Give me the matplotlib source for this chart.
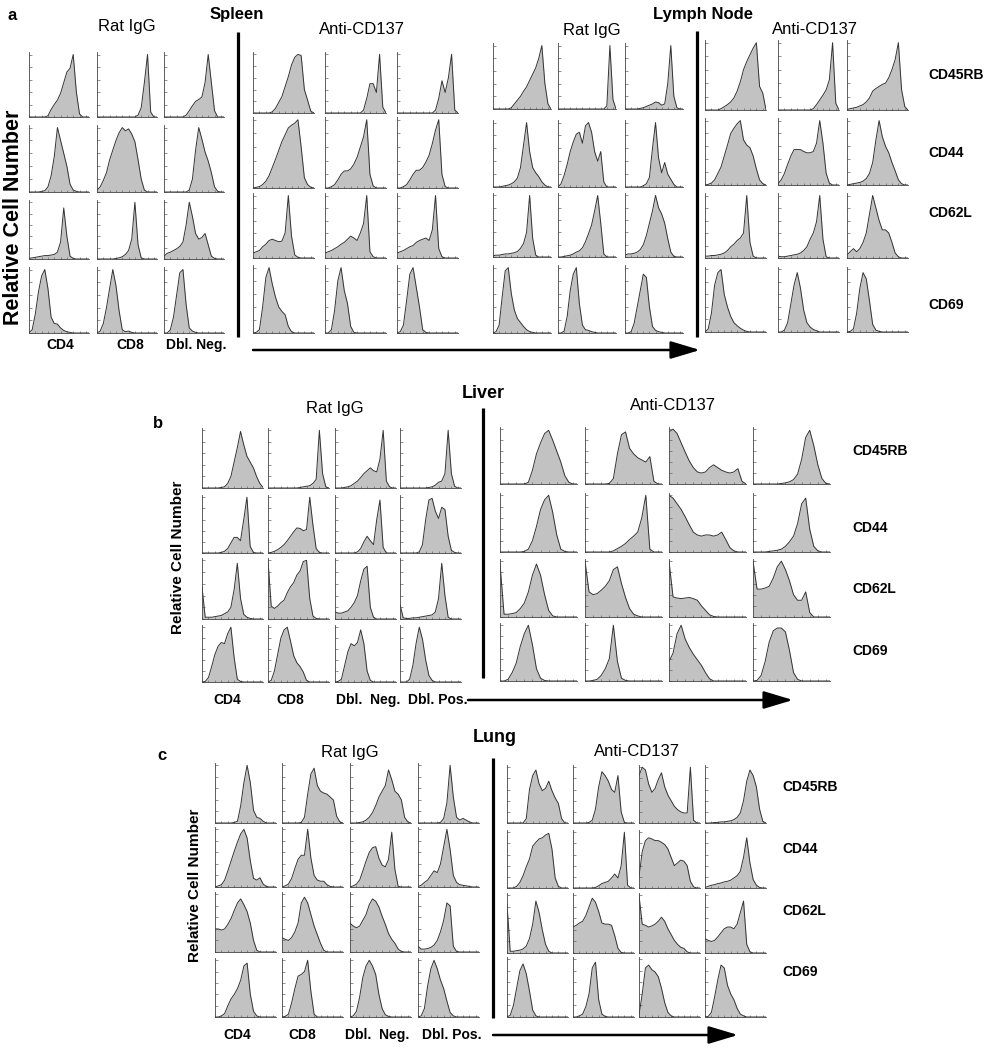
import matplotlib
matplotlib.use("Agg")
import matplotlib.pyplot as plt
import numpy as np
from matplotlib.ticker import MultipleLocator

plt.rcParams['font.family'] = ['Liberation Sans', 'DejaVu Sans']

W, H = 991, 1050

markers = ["CD45RB", "CD44", "CD62L", "CD69"]
subsets_a = ["CD4", "CD8", "Dbl. Neg."]
subsets_bc = ["CD4", "CD8", "Dbl.  Neg.", "Dbl. Pos."]

# relative cell counts in 20 fluorescence channels
# rows = markers, columns = subsets
spleen_rat = [
    [[0, 0, 0, 0, 0, 0, 2, 12, 20, 27, 38, 55, 72, 78, 100, 40, 5, 0, 0, 0],
     [0, 0, 0, 0, 0, 0, 0, 0, 0, 0, 0, 0, 0, 3, 15, 55, 100, 8, 0, 0],
     [0, 0, 0, 0, 0, 0, 0, 3, 10, 18, 25, 28, 32, 55, 100, 55, 10, 0, 0, 0]],
    [[0, 0, 0, 0, 1, 2, 8, 25, 55, 100, 80, 60, 40, 12, 3, 1, 0, 0, 0, 0],
     [3, 8, 18, 30, 50, 65, 80, 92, 100, 95, 98, 90, 78, 50, 20, 3, 0, 0, 0, 0],
     [0, 0, 0, 0, 0, 0, 0, 0, 3, 20, 65, 100, 82, 62, 48, 30, 8, 1, 0, 0]],
    [[1, 2, 3, 4, 5, 6, 6, 7, 8, 12, 30, 90, 40, 5, 1, 0, 0, 0, 0, 0],
     [0, 0, 0, 0, 0, 0, 1, 2, 4, 8, 15, 35, 100, 25, 2, 0, 0, 0, 0, 0],
     [5, 10, 12, 15, 18, 22, 30, 60, 100, 75, 45, 35, 38, 45, 25, 5, 1, 0, 0, 0]],
    [[1, 5, 30, 65, 90, 100, 70, 25, 15, 14, 8, 4, 2, 1, 0, 0, 0, 0, 0, 0],
     [0, 3, 15, 40, 70, 100, 75, 35, 5, 2, 3, 1, 0, 0, 0, 0, 0, 0, 0, 0],
     [0, 0, 5, 25, 60, 95, 100, 45, 8, 3, 1, 0, 0, 0, 0, 0, 0, 0, 0, 0]],
]

spleen_anti = [
    [[0, 0, 0, 0, 0, 0, 2, 8, 18, 28, 45, 62, 82, 95, 100, 98, 40, 22, 3, 0],
     [0, 0, 0, 0, 0, 0, 0, 0, 0, 0, 0, 0, 5, 25, 50, 50, 35, 100, 10, 0],
     [0, 0, 0, 0, 0, 0, 0, 0, 0, 0, 0, 0, 5, 25, 55, 35, 60, 100, 5, 0]],
    [[0, 1, 2, 5, 10, 18, 30, 42, 55, 68, 78, 88, 92, 95, 100, 60, 15, 5, 1, 0],
     [0, 0, 2, 5, 12, 20, 25, 25, 28, 35, 45, 60, 75, 100, 20, 3, 0, 0, 0, 0],
     [0, 0, 2, 5, 12, 20, 26, 26, 30, 38, 48, 65, 85, 100, 20, 2, 0, 0, 0, 0]],
    [[8, 10, 12, 18, 22, 28, 30, 28, 26, 27, 40, 100, 35, 5, 1, 0, 0, 0, 0, 0],
     [8, 10, 12, 15, 18, 22, 25, 30, 35, 32, 28, 40, 55, 100, 10, 2, 0, 0, 0, 0],
     [8, 10, 12, 15, 18, 20, 25, 28, 30, 32, 28, 45, 100, 15, 2, 0, 0, 0, 0, 0]],
    [[0, 1, 5, 40, 85, 100, 75, 55, 40, 33, 28, 10, 2, 0, 0, 0, 0, 0, 0, 0],
     [0, 0, 5, 35, 80, 100, 65, 45, 10, 1, 0, 0, 0, 0, 0, 0, 0, 0, 0, 0],
     [0, 2, 12, 50, 90, 100, 70, 40, 5, 1, 0, 0, 0, 0, 0, 0, 0, 0, 0, 0]],
]

ln_rat = [
    [[0, 0, 0, 0, 0, 0, 2, 8, 14, 20, 28, 35, 45, 55, 65, 80, 100, 40, 8, 0],
     [0, 0, 0, 0, 0, 0, 0, 0, 0, 0, 0, 0, 0, 0, 0, 0, 5, 100, 15, 0],
     [0, 0, 0, 0, 0, 1, 2, 4, 6, 8, 11, 10, 6, 8, 40, 100, 20, 2, 0, 0]],
    [[0, 0, 0, 1, 2, 3, 5, 8, 14, 30, 65, 100, 55, 30, 22, 16, 8, 3, 0, 0],
     [0, 5, 18, 35, 55, 70, 82, 85, 68, 95, 100, 85, 55, 40, 55, 8, 0, 0, 0, 0],
     [0, 0, 0, 0, 0, 0, 2, 5, 15, 60, 100, 45, 22, 38, 20, 12, 4, 0, 0, 0]],
    [[2, 3, 3, 4, 5, 5, 6, 7, 9, 14, 22, 40, 100, 30, 3, 0, 0, 0, 0, 0],
     [0, 0, 1, 2, 3, 5, 8, 10, 15, 25, 38, 52, 75, 100, 55, 5, 0, 0, 0, 0],
     [3, 5, 5, 6, 8, 12, 20, 35, 55, 75, 100, 80, 70, 55, 30, 8, 1, 0, 0, 0]],
    [[0, 2, 12, 55, 95, 100, 60, 35, 22, 16, 10, 5, 2, 1, 0, 0, 0, 0, 0, 0],
     [0, 0, 3, 25, 65, 90, 100, 45, 12, 5, 4, 2, 1, 0, 0, 0, 0, 0, 0, 0],
     [0, 0, 2, 15, 40, 65, 90, 85, 40, 10, 4, 2, 1, 0, 0, 0, 0, 0, 0, 0]],
]

ln_anti = [
    [[0, 0, 0, 0, 0, 2, 5, 8, 12, 18, 28, 42, 60, 72, 82, 92, 100, 35, 25, 0],
     [0, 0, 0, 0, 0, 0, 0, 0, 0, 0, 0, 2, 8, 15, 22, 30, 45, 100, 10, 0],
     [1, 2, 3, 4, 6, 8, 12, 18, 28, 32, 35, 38, 40, 48, 60, 75, 100, 30, 5, 0]],
    [[0, 1, 3, 8, 18, 28, 45, 62, 80, 88, 95, 100, 70, 62, 58, 45, 25, 8, 2, 0],
     [2, 8, 18, 32, 45, 55, 55, 55, 52, 50, 50, 52, 65, 100, 65, 18, 3, 0, 0, 0],
     [0, 1, 2, 3, 4, 6, 10, 18, 35, 70, 100, 75, 60, 50, 35, 22, 8, 2, 0, 0]],
    [[3, 3, 4, 4, 5, 6, 8, 12, 18, 22, 28, 32, 40, 100, 25, 3, 0, 0, 0, 0],
     [3, 2, 2, 3, 4, 5, 6, 8, 12, 18, 30, 40, 58, 100, 30, 2, 0, 0, 0, 0],
     [5, 10, 15, 10, 15, 25, 40, 70, 100, 80, 60, 45, 45, 40, 25, 8, 2, 0, 0, 0]],
    [[0, 5, 30, 75, 95, 100, 60, 40, 25, 15, 10, 6, 3, 1, 0, 0, 0, 0, 0, 0],
     [0, 0, 3, 15, 45, 75, 95, 70, 35, 15, 8, 4, 2, 0, 0, 0, 0, 0, 0, 0],
     [0, 1, 5, 30, 70, 95, 85, 50, 12, 3, 1, 0, 0, 0, 0, 0, 0, 0, 0, 0]],
]

liver_rat = [
    [[0, 0, 0, 0, 0, 0, 1, 2, 8, 20, 45, 70, 98, 75, 55, 45, 35, 20, 8, 1],
     [0, 0, 0, 0, 0, 0, 0, 0, 0, 0, 1, 2, 3, 4, 8, 15, 100, 25, 2, 0],
     [0, 0, 0, 1, 2, 4, 8, 12, 18, 25, 30, 35, 30, 28, 50, 100, 12, 2, 0, 0],
     [0, 0, 0, 0, 0, 0, 0, 0, 0, 1, 2, 5, 10, 12, 25, 100, 25, 3, 0, 0]],
    [[0, 0, 0, 0, 0, 0, 1, 3, 8, 18, 28, 28, 22, 60, 100, 12, 1, 0, 0, 0],
     [0, 1, 3, 6, 10, 15, 22, 30, 38, 45, 44, 40, 42, 100, 50, 8, 1, 0, 0, 0],
     [0, 0, 0, 0, 0, 0, 0, 2, 8, 20, 30, 22, 15, 60, 95, 10, 0, 0, 0, 0],
     [0, 0, 0, 0, 0, 0, 2, 15, 60, 95, 98, 75, 62, 82, 78, 30, 5, 1, 0, 0]],
    [[55, 3, 3, 3, 4, 5, 6, 9, 12, 20, 50, 95, 35, 8, 3, 1, 0, 0, 0, 0],
     [100, 22, 18, 22, 28, 32, 45, 55, 62, 75, 82, 98, 100, 35, 5, 1, 0, 0, 0, 0],
     [12, 10, 10, 12, 14, 20, 28, 40, 65, 85, 90, 20, 3, 0, 0, 0, 0, 0, 0, 0],
     [25, 2, 1, 1, 2, 2, 3, 4, 5, 6, 7, 12, 35, 95, 40, 3, 0, 0, 0, 0]],
    [[0, 1, 8, 28, 50, 65, 72, 70, 88, 100, 45, 5, 1, 0, 0, 0, 0, 0, 0, 0],
     [0, 3, 20, 50, 80, 95, 100, 75, 48, 35, 28, 18, 3, 0, 0, 0, 0, 0, 0, 0],
     [0, 1, 5, 30, 55, 70, 66, 72, 95, 70, 20, 3, 0, 0, 0, 0, 0, 0, 0, 0],
     [0, 0, 0, 5, 30, 70, 100, 78, 40, 12, 3, 0, 0, 0, 0, 0, 0, 0, 0, 0]],
]

liver_anti = [
    [[0, 0, 0, 0, 0, 0, 0, 3, 25, 55, 75, 92, 98, 80, 60, 40, 15, 3, 0, 0],
     [0, 0, 0, 0, 0, 0, 1, 10, 55, 90, 95, 65, 55, 48, 44, 40, 50, 5, 0, 0],
     [95, 100, 92, 75, 58, 42, 30, 22, 20, 22, 30, 35, 30, 25, 22, 20, 22, 28, 5, 0],
     [0, 0, 0, 0, 0, 0, 0, 1, 2, 4, 8, 18, 45, 85, 98, 70, 35, 10, 1, 0]],
    [[0, 0, 0, 0, 0, 0, 1, 5, 20, 45, 75, 92, 100, 70, 30, 5, 1, 0, 0, 0],
     [0, 0, 0, 0, 0, 0, 0, 2, 6, 10, 15, 22, 28, 35, 60, 100, 5, 0, 0, 0],
     [100, 95, 85, 75, 62, 48, 35, 30, 28, 30, 30, 28, 30, 35, 22, 8, 2, 0, 0, 0],
     [0, 0, 0, 0, 1, 2, 3, 5, 10, 18, 28, 50, 85, 95, 40, 10, 2, 0, 0, 0]],
    [[95, 5, 5, 6, 8, 15, 25, 45, 75, 95, 75, 40, 12, 2, 0, 0, 0, 0, 0, 0],
     [100, 45, 40, 42, 48, 55, 65, 85, 90, 60, 35, 15, 5, 2, 0, 0, 0, 0, 0, 0],
     [100, 36, 34, 33, 34, 35, 33, 30, 20, 12, 4, 1, 0, 0, 0, 0, 0, 0, 0, 0],
     [100, 50, 50, 52, 55, 70, 90, 100, 85, 65, 40, 30, 30, 45, 8, 0, 0, 0, 0, 0]],
    [[0, 0, 3, 15, 32, 62, 85, 100, 65, 22, 5, 1, 0, 0, 0, 0, 0, 0, 0, 0],
     [0, 0, 1, 3, 10, 22, 40, 100, 35, 5, 1, 0, 0, 0, 0, 0, 0, 0, 0, 0],
     [35, 50, 85, 100, 75, 60, 48, 38, 28, 15, 4, 0, 0, 0, 0, 0, 0, 0, 0, 0],
     [0, 1, 10, 35, 70, 90, 95, 95, 88, 55, 15, 3, 0, 0, 0, 0, 0, 0, 0, 0]],
]

lung_rat = [
    [[0, 0, 0, 0, 0, 0, 1, 3, 30, 70, 100, 70, 22, 10, 8, 3, 0, 0, 0, 0],
     [0, 0, 0, 0, 0, 0, 1, 10, 50, 85, 95, 65, 55, 52, 50, 45, 40, 12, 2, 0],
     [0, 0, 0, 1, 2, 5, 10, 18, 30, 45, 55, 65, 92, 75, 55, 50, 40, 10, 2, 0],
     [0, 0, 0, 0, 0, 0, 0, 1, 8, 35, 100, 45, 10, 5, 8, 5, 2, 0, 0, 0]],
    [[0, 2, 4, 12, 28, 45, 62, 78, 92, 100, 85, 45, 15, 12, 16, 5, 1, 0, 0, 0],
     [0, 2, 5, 15, 32, 48, 55, 55, 100, 50, 20, 12, 10, 10, 4, 1, 0, 0, 0, 0],
     [0, 2, 5, 12, 28, 45, 60, 68, 70, 50, 38, 35, 48, 95, 30, 1, 0, 0, 0, 0],
     [1, 3, 8, 12, 20, 28, 25, 40, 70, 100, 65, 20, 8, 4, 3, 2, 1, 0, 0, 0]],
    [[40, 40, 38, 40, 48, 58, 72, 85, 92, 82, 70, 50, 20, 3, 0, 0, 0, 0, 0, 0],
     [25, 22, 20, 25, 35, 50, 85, 95, 85, 65, 45, 30, 15, 3, 0, 0, 0, 0, 0, 0],
     [50, 45, 42, 45, 55, 65, 82, 92, 88, 78, 62, 48, 32, 22, 15, 5, 1, 0, 0, 0],
     [10, 5, 5, 6, 8, 12, 20, 35, 55, 85, 80, 10, 1, 0, 0, 0, 0, 0, 0, 0]],
    [[0, 0, 2, 6, 20, 32, 40, 50, 65, 90, 95, 40, 10, 2, 0, 0, 0, 0, 0, 0],
     [0, 1, 5, 25, 50, 72, 75, 80, 100, 45, 5, 0, 0, 0, 0, 0, 0, 0, 0, 0],
     [0, 2, 10, 35, 70, 90, 100, 90, 75, 40, 15, 4, 1, 0, 0, 0, 0, 0, 0, 0],
     [0, 2, 15, 55, 85, 100, 85, 65, 50, 28, 8, 2, 0, 0, 0, 0, 0, 0, 0, 0]],
]

lung_anti = [
    [[0, 0, 0, 0, 0, 0, 8, 60, 85, 95, 70, 58, 62, 75, 58, 45, 35, 8, 0, 0],
     [0, 0, 0, 0, 0, 1, 5, 25, 65, 92, 85, 75, 60, 55, 85, 20, 1, 0, 0, 0],
     [85, 100, 95, 70, 55, 62, 78, 90, 65, 50, 40, 30, 24, 20, 18, 18, 100, 5, 0, 0],
     [0, 0, 0, 1, 1, 2, 2, 3, 4, 6, 10, 18, 40, 75, 95, 85, 65, 25, 3, 0]],
    [[0, 0, 0, 3, 10, 22, 38, 52, 75, 82, 88, 90, 95, 98, 70, 18, 3, 0, 0, 0],
     [0, 0, 0, 0, 0, 0, 0, 1, 4, 8, 10, 12, 18, 25, 18, 40, 100, 5, 0, 0],
     [20, 65, 85, 90, 88, 85, 85, 82, 78, 70, 55, 40, 45, 50, 48, 40, 12, 2, 0, 0],
     [1, 3, 5, 6, 8, 9, 11, 12, 14, 18, 22, 30, 55, 90, 45, 15, 5, 1, 0, 0]],
    [[85, 3, 3, 4, 5, 7, 12, 25, 50, 90, 70, 40, 15, 3, 0, 0, 0, 0, 0, 0],
     [45, 48, 52, 55, 65, 80, 95, 88, 72, 52, 50, 50, 48, 30, 8, 1, 0, 0, 0, 0],
     [100, 50, 48, 45, 47, 50, 55, 62, 55, 42, 32, 22, 15, 10, 8, 2, 0, 0, 0, 0],
     [25, 22, 20, 22, 28, 35, 42, 45, 45, 42, 50, 70, 90, 15, 2, 0, 0, 0, 0, 0]],
    [[0, 3, 20, 50, 80, 92, 75, 45, 12, 2, 0, 0, 0, 0, 0, 0, 0, 0, 0, 0],
     [0, 0, 2, 5, 18, 40, 85, 95, 30, 5, 1, 0, 0, 0, 0, 0, 0, 0, 0, 0],
     [3, 40, 85, 90, 82, 78, 70, 50, 25, 8, 2, 0, 0, 0, 0, 0, 0, 0, 0, 0],
     [0, 1, 8, 35, 65, 90, 85, 55, 40, 30, 15, 5, 2, 0, 0, 0, 0, 0, 0, 0]],
]

FILL = "#c2c2c2"
EDGE = "#333333"

fig = plt.figure(figsize=(W / 100, H / 100), dpi=100)
over = fig.add_axes([0, 0, 1, 1])
over.set_xlim(0, W)
over.set_ylim(H, 0)
over.axis("off")


def hist_block(data, lefts, width, rows):
    # rows: (top, baseline) in pixels
    for r, (top, base) in enumerate(rows):
        for c, left in enumerate(lefts):
            ax = fig.add_axes([left / W, 1 - base / H, width / W, (base - top) / H])
            y = np.array(data[r][c], dtype=float)
            x = np.arange(len(y))
            ax.fill_between(x, y, color=FILL, lw=0)
            ax.plot(x, y, color=EDGE, lw=0.7)
            ax.set_xlim(0, len(y) - 1)
            ax.set_ylim(0, 104)
            for s in ["top", "right"]:
                ax.spines[s].set_visible(False)
            for s in ["left", "bottom"]:
                ax.spines[s].set_color("#444444")
                ax.spines[s].set_linewidth(0.6)
            ax.xaxis.set_major_locator(MultipleLocator(2))
            ax.yaxis.set_major_locator(MultipleLocator(20))
            ax.tick_params(direction="in", length=1.8, width=0.5, colors="#666666",
                           labelleft=False, labelbottom=False)
            ax.set_facecolor("none")


def txt(x, y, s, size, bold=False, ha="center", **kw):
    over.text(x, y, s, fontsize=size, fontweight="bold" if bold else "normal",
              ha=ha, va="center", **kw)


def divider(x, y0, y1):
    over.plot([x, x], [y0, y1], color="black", lw=2.3, solid_capstyle="butt")


def arrow(x0, x1, y):
    over.annotate("", xy=(x1, y), xytext=(x0, y),
                  arrowprops=dict(arrowstyle="-|>,head_length=1.5,head_width=0.45",
                                  lw=1.8, color="black", mutation_scale=12,
                                  shrinkA=0, shrinkB=0))


# ---- panel a: spleen and lymph node ----
rows_sr = [(52, 117), (125, 192), (200, 259), (267, 333)]
rows_sa = [(52, 113), (117, 188), (193, 258), (265, 333)]
rows_lr = [(43, 109), (120, 187), (193, 257), (265, 333)]
rows_la = [(40, 110), (118, 185), (193, 258), (267, 332)]
hist_block(spleen_rat, [29, 97, 164], 60, rows_sr)
hist_block(spleen_anti, [253, 325, 397], 61, rows_sa)
hist_block(ln_rat, [493, 558, 625], 58, rows_lr)
hist_block(ln_anti, [705, 778, 847], 61, rows_la)

txt(8, 15, "a", 12, True, ha="left")
txt(237, 15, "Spleen", 12, True)
txt(703, 15, "Lymph Node", 12, True)
txt(127, 27, "Rat IgG", 12)
txt(362, 30, "Anti-CD137", 12)
txt(592, 31, "Rat IgG", 12)
txt(815, 30, "Anti-CD137", 12)
for m, yy in zip(markers, [75, 153, 213, 305]):
    txt(928, yy, m, 10, True, ha="left")
for s, xx in zip(subsets_a, [60, 130, 196]):
    txt(xx, 345, s, 10, True)
txt(14, 217, "Relative Cell Number", 15.5, True, rotation=90)
divider(238, 32, 337)
divider(697, 31, 337)
arrow(253, 700, 350)

# ---- panel b: liver ----
rows_vr = [(428, 488), (495, 553), (558, 619), (625, 682)]
rows_va = [(427, 484), (493, 552), (559, 617), (623, 681)]
hist_block(liver_rat, [202, 268, 335, 400], 61, rows_vr)
hist_block(liver_anti, [500, 585, 669, 753], 77, rows_va)

txt(158, 423, "b", 12, True)
txt(483, 393, "Liver", 13, True)
txt(335, 408, "Rat IgG", 12)
txt(673, 405, "Anti-CD137", 12)
for m, yy in zip(markers, [451, 528, 589, 651]):
    txt(852, yy, m, 10, True, ha="left")
for s, xx in zip(subsets_bc, [227, 290, 368, 438]):
    txt(xx, 700, s, 10, True)
txt(178, 557, "Relative Cell Number", 11, True, rotation=90)
divider(483, 408, 678)
arrow(468, 793, 700)

# ---- panel c: lung ----
rows_gr = [(763, 823), (827, 887), (892, 952), (958, 1017)]
rows_ga = [(765, 823), (830, 888), (893, 953), (957, 1017)]
hist_block(lung_rat, [215, 282, 350, 418], 61, rows_gr)
hist_block(lung_anti, [507, 573, 639, 705], 61, rows_ga)

txt(162, 755, "c", 12, True)
txt(495, 738, "Lung", 13, True)
txt(350, 752, "Rat IgG", 12)
txt(637, 752, "Anti-CD137", 12)
for m, yy in zip(markers, [787, 849, 911, 972]):
    txt(782, yy, m, 10, True, ha="left")
for s, xx in zip(subsets_bc, [237, 302, 377, 452]):
    txt(xx, 1035, s, 10, True)
txt(195, 885, "Relative Cell Number", 11, True, rotation=90)
divider(493, 758, 1018)
arrow(493, 738, 1035)

fig.savefig("out.png", dpi=100)
